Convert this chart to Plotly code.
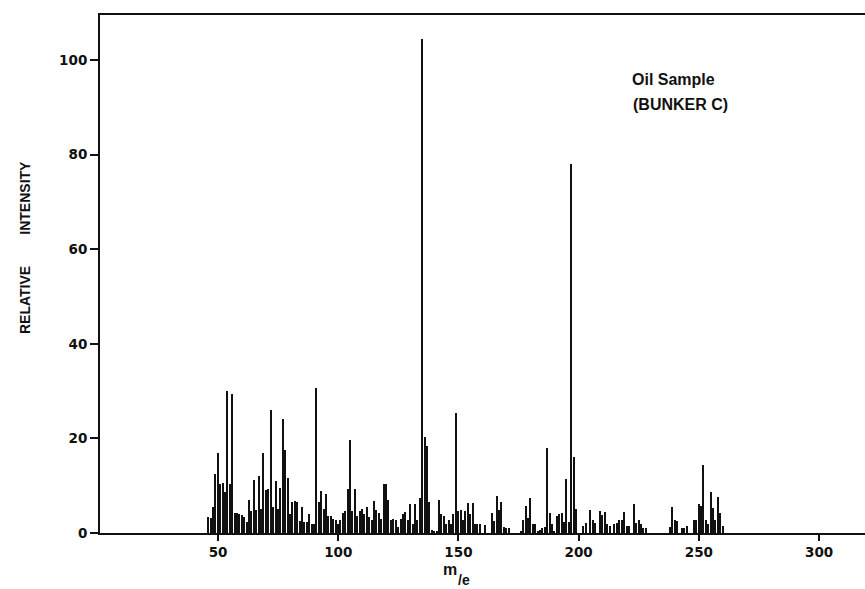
import plotly.graph_objects as go

# Mass spectrum of a Bunker C oil sample: m/e and relative intensity
mz = [46, 47, 48, 49, 50, 51, 52, 53, 54, 55, 56, 57, 58, 59, 60, 61, 62, 63, 64, 65,
      66, 67, 68, 69, 70, 71, 72, 73, 74, 75, 76, 77, 78, 79, 80, 81, 82, 83, 84, 85,
      86, 87, 88, 89, 90, 91, 92, 93, 94, 95, 96, 97, 98, 99, 100, 101, 102, 103, 104, 105,
      106, 107, 108, 109, 110, 111, 112, 113, 114, 115, 116, 117, 118, 119, 120, 121, 122, 123, 124, 125,
      126, 127, 128, 129, 130, 131, 132, 133, 134, 135, 136, 137, 138, 139, 140, 141, 142, 143, 144, 145,
      146, 147, 148, 149, 150, 151, 152, 153, 154, 155, 156, 157, 158, 159, 161, 164, 165, 166, 167, 168,
      169, 170, 171, 176, 177, 178, 179, 180, 181, 182, 183, 184, 185, 186, 187, 188, 189, 190, 191, 192,
      193, 194, 195, 196, 197, 198, 199, 202, 203, 205, 206, 207, 209, 210, 211, 212, 213, 215, 216, 217,
      218, 219, 220, 221, 223, 224, 225, 226, 227, 228, 238, 239, 240, 241, 243, 244, 245, 248, 249, 250,
      251, 252, 253, 254, 255, 256, 257, 258, 259, 260]

intensity = [3.4, 3.2, 5.4, 12.4, 16.9, 10.4, 10.5, 8.7, 30.0, 10.4, 29.4, 4.2, 4.2, 4.0, 3.9, 3.3, 2.3, 7.0, 4.6, 11.3,
             4.9, 12.0, 5.0, 17.0, 9.0, 9.2, 26.0, 5.5, 11.0, 5.0, 9.6, 24.0, 17.5, 11.7, 4.1, 6.5, 6.8, 6.5, 2.5, 5.5,
             2.3, 2.3, 4.1, 2.0, 2.0, 30.6, 6.5, 8.9, 5.1, 8.2, 3.7, 3.7, 3.0, 2.7, 2.0, 2.7, 4.2, 4.6, 9.3, 19.7,
             4.6, 9.4, 3.7, 4.6, 5.1, 4.1, 5.4, 3.4, 2.7, 6.8, 4.8, 4.2, 3.0, 10.4, 10.4, 6.9, 2.7, 3.0, 2.7, 1.3,
             3.0, 4.1, 4.4, 2.7, 6.1, 2.0, 6.2, 2.7, 7.3, 104.5, 20.3, 18.3, 6.5, 0.7, 0.4, 0.4, 6.9, 4.1, 3.5, 2.0,
             2.7, 2.0, 4.1, 25.3, 4.6, 4.8, 2.7, 4.6, 6.3, 4.1, 6.3, 1.9, 1.9, 1.9, 1.7, 4.3, 2.6, 7.8, 4.9, 6.6,
             1.3, 1.0, 1.0, 0.5, 2.7, 5.7, 3.1, 7.3, 1.9, 1.9, 0.3, 0.6, 1.0, 1.3, 17.9, 4.2, 2.0, 0.3, 3.6, 4.0,
             4.2, 2.4, 11.5, 2.4, 78.0, 16.0, 5.0, 1.5, 2.1, 4.9, 2.8, 2.1, 4.6, 3.9, 4.4, 1.8, 1.5, 1.8, 2.1, 2.7,
             2.8, 4.4, 1.5, 1.5, 6.2, 2.1, 2.7, 1.8, 1.1, 1.1, 1.2, 5.6, 2.7, 2.5, 1.1, 1.1, 1.5, 2.7, 2.7, 6.2,
             5.8, 14.4, 2.7, 2.0, 8.6, 5.3, 2.7, 7.7, 4.2, 1.4]

x_ticks = [50, 100, 150, 200, 250, 300]
y_ticks = [0, 20, 40, 60, 80, 100]

# page geometry (pixels)
W, H = 865, 589
ML, MR, MT, MB = 100, 0, 15, 56
PW, PH = W - ML - MR, H - MT - MB


def px_x(px):
    return (px - ML) / PW


def px_y(py):
    return (H - MB - py) / PH


bold = "Liberation Sans, Arial, DejaVu Sans, sans-serif"
tick_font = dict(family="DejaVu Sans, Liberation Sans, sans-serif", size=13.5, color="#111111", weight="bold")

fig = go.Figure(
    go.Bar(
        x=mz,
        y=intensity,
        width=0.62,
        marker=dict(color="#111111", line=dict(width=0)),
        hoverinfo="x+y",
    )
)

fig.update_layout(
    width=W,
    height=H,
    margin=dict(l=ML, r=MR, t=MT, b=MB, pad=0),
    paper_bgcolor="white",
    plot_bgcolor="white",
    showlegend=False,
    bargap=0,
    xaxis=dict(
        range=[0.9, 319.1],
        tickvals=x_ticks,
        ticktext=[str(v) for v in x_ticks],
        ticks="outside",
        ticklen=6,
        tickwidth=1.5,
        tickcolor="#111111",
        showline=True,
        linecolor="#111111",
        linewidth=1.5,
        mirror=True,
        showgrid=False,
        zeroline=False,
        tickfont=tick_font,
    ),
    yaxis=dict(
        range=[0, 109.5],
        tickvals=y_ticks,
        ticktext=[str(v) for v in y_ticks],
        ticks="outside",
        ticklen=8,
        tickwidth=1.5,
        tickcolor="#111111",
        showline=True,
        linecolor="#111111",
        linewidth=2,
        mirror=False,
        showgrid=False,
        zeroline=False,
        tickfont=tick_font,
    ),
)

annotations = [
    dict(text="<b>RELATIVE" + "&nbsp;" * 8 + "INTENSITY</b>", x=px_x(25), y=px_y(248), textangle=-90,
         font=dict(family=bold, size=14, color="#111111"), xanchor="center", yanchor="middle"),
    dict(text="<b>Oil Sample</b>", x=px_x(630), y=px_y(80),
         font=dict(family=bold, size=16, color="#111111"), xanchor="left", yanchor="middle"),
    dict(text="<b>(BUNKER C)</b>", x=px_x(631), y=px_y(104),
         font=dict(family=bold, size=16, color="#111111"), xanchor="left", yanchor="middle"),
    # m/e axis label: "m" raised, "/e" stepped down to the right
    dict(text="<b>m</b>", x=px_x(450), y=px_y(569),
         font=dict(family=bold, size=16, color="#111111"), xanchor="center", yanchor="middle"),
    dict(text="<b>/e</b>", x=px_x(464), y=px_y(580),
         font=dict(family=bold, size=14, color="#111111"), xanchor="center", yanchor="middle"),
]
for a in annotations:
    a.update(xref="paper", yref="paper", showarrow=False)
fig.update_layout(annotations=annotations)

fig.write_html("out.html")
